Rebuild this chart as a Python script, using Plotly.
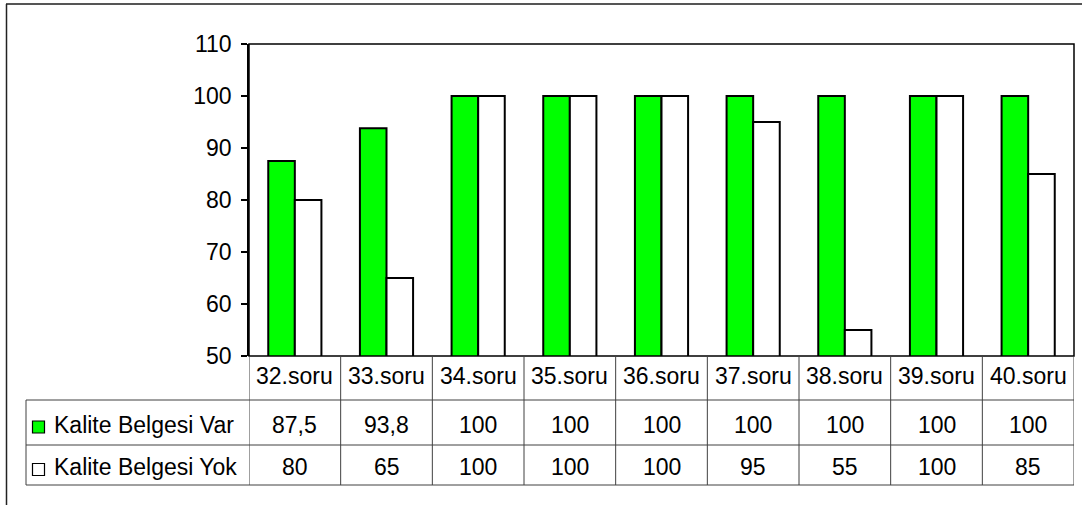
import plotly.graph_objects as go

# Survey questions and percentage answers per group
categories = ["32.soru", "33.soru", "34.soru", "35.soru", "36.soru",
              "37.soru", "38.soru", "39.soru", "40.soru"]
belgesi_var = [87.5, 93.8, 100, 100, 100, 100, 100, 100, 100]
belgesi_yok = [80, 65, 100, 100, 100, 95, 55, 100, 85]
series_names = ["Kalite Belgesi Var", "Kalite Belgesi Yok"]
series_colors = ["#00FF00", "#FFFFFF"]
y_ticks = [50, 60, 70, 80, 90, 100, 110]

W, H = 1082, 505
FONT = "Liberation Sans, Arial, sans-serif"
FS = 23

# pixel layout helpers (paper coords, y measured from top)
def px(x):
    return x / W

def py(y):
    return 1 - y / H

plot_l, plot_r, plot_t, plot_b = 249, 1074, 44, 356
row1_b, row2_b, row3_b = 400, 445, 485
table_l = 26

fig = go.Figure()
for name, vals, col in zip(series_names, [belgesi_var, belgesi_yok], series_colors):
    fig.add_trace(go.Bar(
        x=categories, y=vals, name=name,
        marker=dict(color=col, line=dict(color="black", width=2)),
        showlegend=False,
    ))

shapes = []
annotations = []
line_col = "#404040"

# outer chart frame (top and left edges)
shapes.append(dict(type="line", xref="paper", yref="paper",
                   x0=px(6), x1=1, y0=py(4), y1=py(4),
                   line=dict(color="#555555", width=2)))
shapes.append(dict(type="line", xref="paper", yref="paper",
                   x0=px(6.5), x1=px(6.5), y0=py(4), y1=0,
                   line=dict(color="#222222", width=1.5)))

# plot area border
shapes.append(dict(type="rect", xref="paper", yref="paper",
                   x0=px(plot_l), x1=px(plot_r), y0=py(plot_b), y1=py(plot_t),
                   line=dict(color="black", width=1.5)))

# data table: horizontal rules
for yy in [row1_b, row2_b, row3_b]:
    shapes.append(dict(type="line", xref="paper", yref="paper",
                       x0=px(table_l), x1=px(plot_r), y0=py(yy), y1=py(yy),
                       line=dict(color=line_col, width=1)))
# left edge of the series rows
shapes.append(dict(type="line", xref="paper", yref="paper",
                   x0=px(table_l), x1=px(table_l), y0=py(row1_b), y1=py(row3_b),
                   line=dict(color=line_col, width=1)))
# column separators at category boundaries
for i in range(len(categories) + 1):
    shapes.append(dict(type="line", xref="x", yref="paper",
                       x0=i - 0.5, x1=i - 0.5, y0=py(plot_b), y1=py(row3_b),
                       line=dict(color=line_col, width=1)))

# header row: category names
for c in categories:
    annotations.append(dict(x=c, xref="x", y=py((plot_b + row1_b) / 2), yref="paper",
                            text=c, showarrow=False, yanchor="middle", yshift=2,
                            font=dict(family=FONT, size=FS, color="black")))

# series rows: legend key, name, values
row_centers = [(row1_b + row2_b) / 2, (row2_b + row3_b) / 2]
for name, vals, col, yc in zip(series_names, [belgesi_var, belgesi_yok],
                               series_colors, row_centers):
    shapes.append(dict(type="rect", xref="paper", yref="paper",
                       x0=px(32.5), x1=px(44.5), y0=py(yc + 10.5), y1=py(yc - 1.5),
                       fillcolor=col, line=dict(color="black", width=1.2)))
    annotations.append(dict(x=px(52), xref="paper", y=py(yc), yref="paper",
                            text=name, showarrow=False, xanchor="left",
                            yanchor="middle", yshift=-2,
                            font=dict(family=FONT, size=FS, color="black")))
    for c, v in zip(categories, vals):
        label = f"{v:g}".replace(".", ",")
        annotations.append(dict(x=c, xref="x", y=py(yc), yref="paper",
                                text=label, showarrow=False, yanchor="middle",
                                yshift=-2,
                                font=dict(family=FONT, size=FS, color="black")))

fig.update_layout(
    width=W, height=H, autosize=False,
    margin=dict(l=0, r=0, t=0, b=0, pad=0),
    paper_bgcolor="white", plot_bgcolor="white",
    barmode="group", bargap=0.42, bargroupgap=0,
    xaxis=dict(domain=[px(plot_l), px(plot_r)], showticklabels=False,
               showgrid=False, zeroline=False, ticks="", automargin=False,
               range=[-0.5, len(categories) - 0.5]),
    yaxis=dict(domain=[py(plot_b), py(plot_t)], range=[50, 110],
               tickvals=y_ticks, ticks="outside", ticklen=6, tickwidth=1.5,
               tickcolor="black", showline=True, linecolor="black", linewidth=1.5,
               showgrid=False, zeroline=False, automargin=False,
               ticklabelstandoff=5,
               tickfont=dict(family=FONT, size=FS, color="black")),
    shapes=shapes, annotations=annotations,
)

fig.write_html("out.html")
